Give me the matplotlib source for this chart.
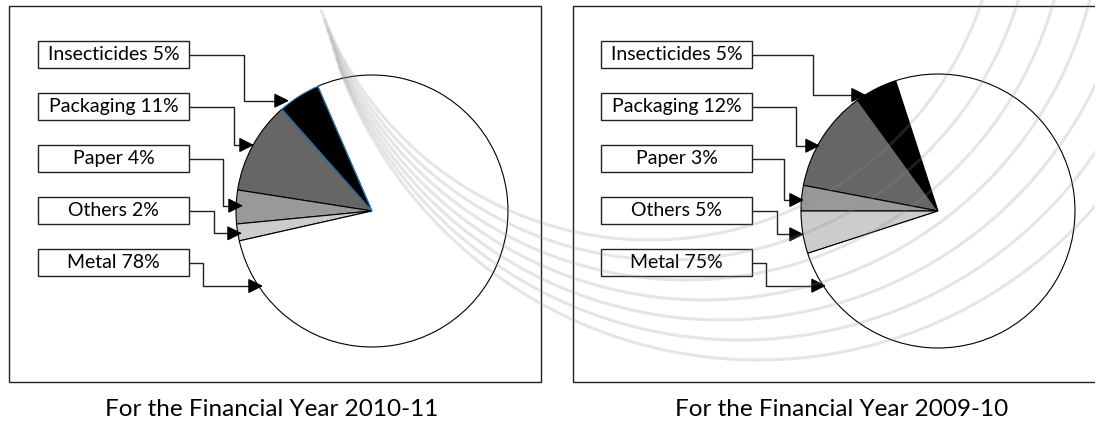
import numpy as np
import matplotlib.pyplot as plt
from matplotlib.patches import Rectangle, Arc

# data
labels = ["Insecticides", "Packaging", "Paper", "Others", "Metal"]
share_2010_11 = [5, 11, 4, 2, 78]
share_2009_10 = [5, 12, 3, 5, 75]
titles = ["For the Financial Year 2010-11", "For the Financial Year 2009-10"]
slice_colors = ["black", "#666666", "#999999", "#cccccc", "white"]

W, H = 1095, 421
FONT = "Lato"


def py(y):
    # pixel row (from top) -> data y
    return H - y


fig = plt.figure(figsize=(W / 100, H / 100), dpi=100)
ax = fig.add_axes([0, 0, 1, 1])

# panel layout (pixels, measured from the top-left)
panels = [
    dict(frame=(9, 6, 541, 382), center=(372, 211), radius=136, start=113.5,
         box_x=38, elbow_x=[244, 233.5, 222.7, 214.3, 203.3],
         elbow_y=[100.7, 145, 205.7, 233.3, 286],
         tip_x=[289, 254, 243, 242, 263], title_x=272,
         values=share_2010_11, title=titles[0], blue_edge=True),
    dict(frame=(573, 6, 1110, 382), center=(938, 211), radius=137, start=108,
         box_x=601, elbow_x=[812.7, 796, 784.3, 777.3, 765.7],
         elbow_y=[95, 145.7, 200, 234.3, 285.7],
         tip_x=[866, 820, 804, 804, 826], title_x=842,
         values=share_2009_10, title=titles[1], blue_edge=False),
]
box_w, box_h = 151, 27
box_tops = [41, 93, 145, 197, 249]

for p in panels:
    x0, y0, x1, y1 = p["frame"]
    ax.add_patch(Rectangle((x0, py(y1)), x1 - x0, y1 - y0, fill=False,
                           edgecolor="#222222", linewidth=1.0, zorder=1))

    cx, cy = p["center"]
    wedges, _ = ax.pie(p["values"], colors=slice_colors, startangle=p["start"],
                       counterclock=True, center=(cx, py(cy)), radius=p["radius"],
                       frame=True,
                       wedgeprops=dict(edgecolor="black", linewidth=0.8))
    for w in wedges:
        w.set_zorder(2)
    if p["blue_edge"]:
        wedges[0].set_edgecolor("#2a7fc0")
        wedges[0].set_zorder(3)

    for i, name in enumerate(labels):
        top = box_tops[i]
        ax.add_patch(Rectangle((p["box_x"], py(top + box_h)), box_w, box_h,
                               facecolor="white", edgecolor="#222222",
                               linewidth=1.0, zorder=4))
        ax.text(p["box_x"] + box_w / 2, py(top + box_h / 2),
                f"{name} {p['values'][i]}%", ha="center", va="center",
                fontsize=14, family=FONT, color="black", zorder=5)

        ym = top + box_h / 2
        xr = p["box_x"] + box_w
        ex, ey, tx = p["elbow_x"][i], p["elbow_y"][i], p["tip_x"][i]
        ax.plot([xr, ex, ex, tx - 8], [py(ym), py(ym), py(ey), py(ey)],
                color="#222222", linewidth=1.0, zorder=4, solid_capstyle="butt")
        ax.annotate("", xy=(tx, py(ey)), xytext=(tx - 12, py(ey)),
                    arrowprops=dict(arrowstyle="-|>,head_length=0.9,head_width=0.45",
                                    mutation_scale=10, color="black", lw=1.0,
                                    shrinkA=0, shrinkB=0), zorder=5)

    ax.text(p["title_x"], py(409), p["title"], ha="center", va="center",
            fontsize=17.5, family=FONT, color="black")

# faint decorative swoops of the page background
for k in range(7):
    r = 350 + 16 * k
    ax.add_patch(Arc((650 + 18 * k, py(-110 + 4 * k)), 2 * r, 2 * r,
                     theta1=200, theta2=350, color="#8c8c8c", alpha=0.22,
                     linewidth=2.2, zorder=6))

ax.set_xlim(0, W)
ax.set_ylim(0, H)
ax.set_aspect("equal")
ax.axis("off")

fig.savefig("out.png", dpi=100, facecolor="white")
